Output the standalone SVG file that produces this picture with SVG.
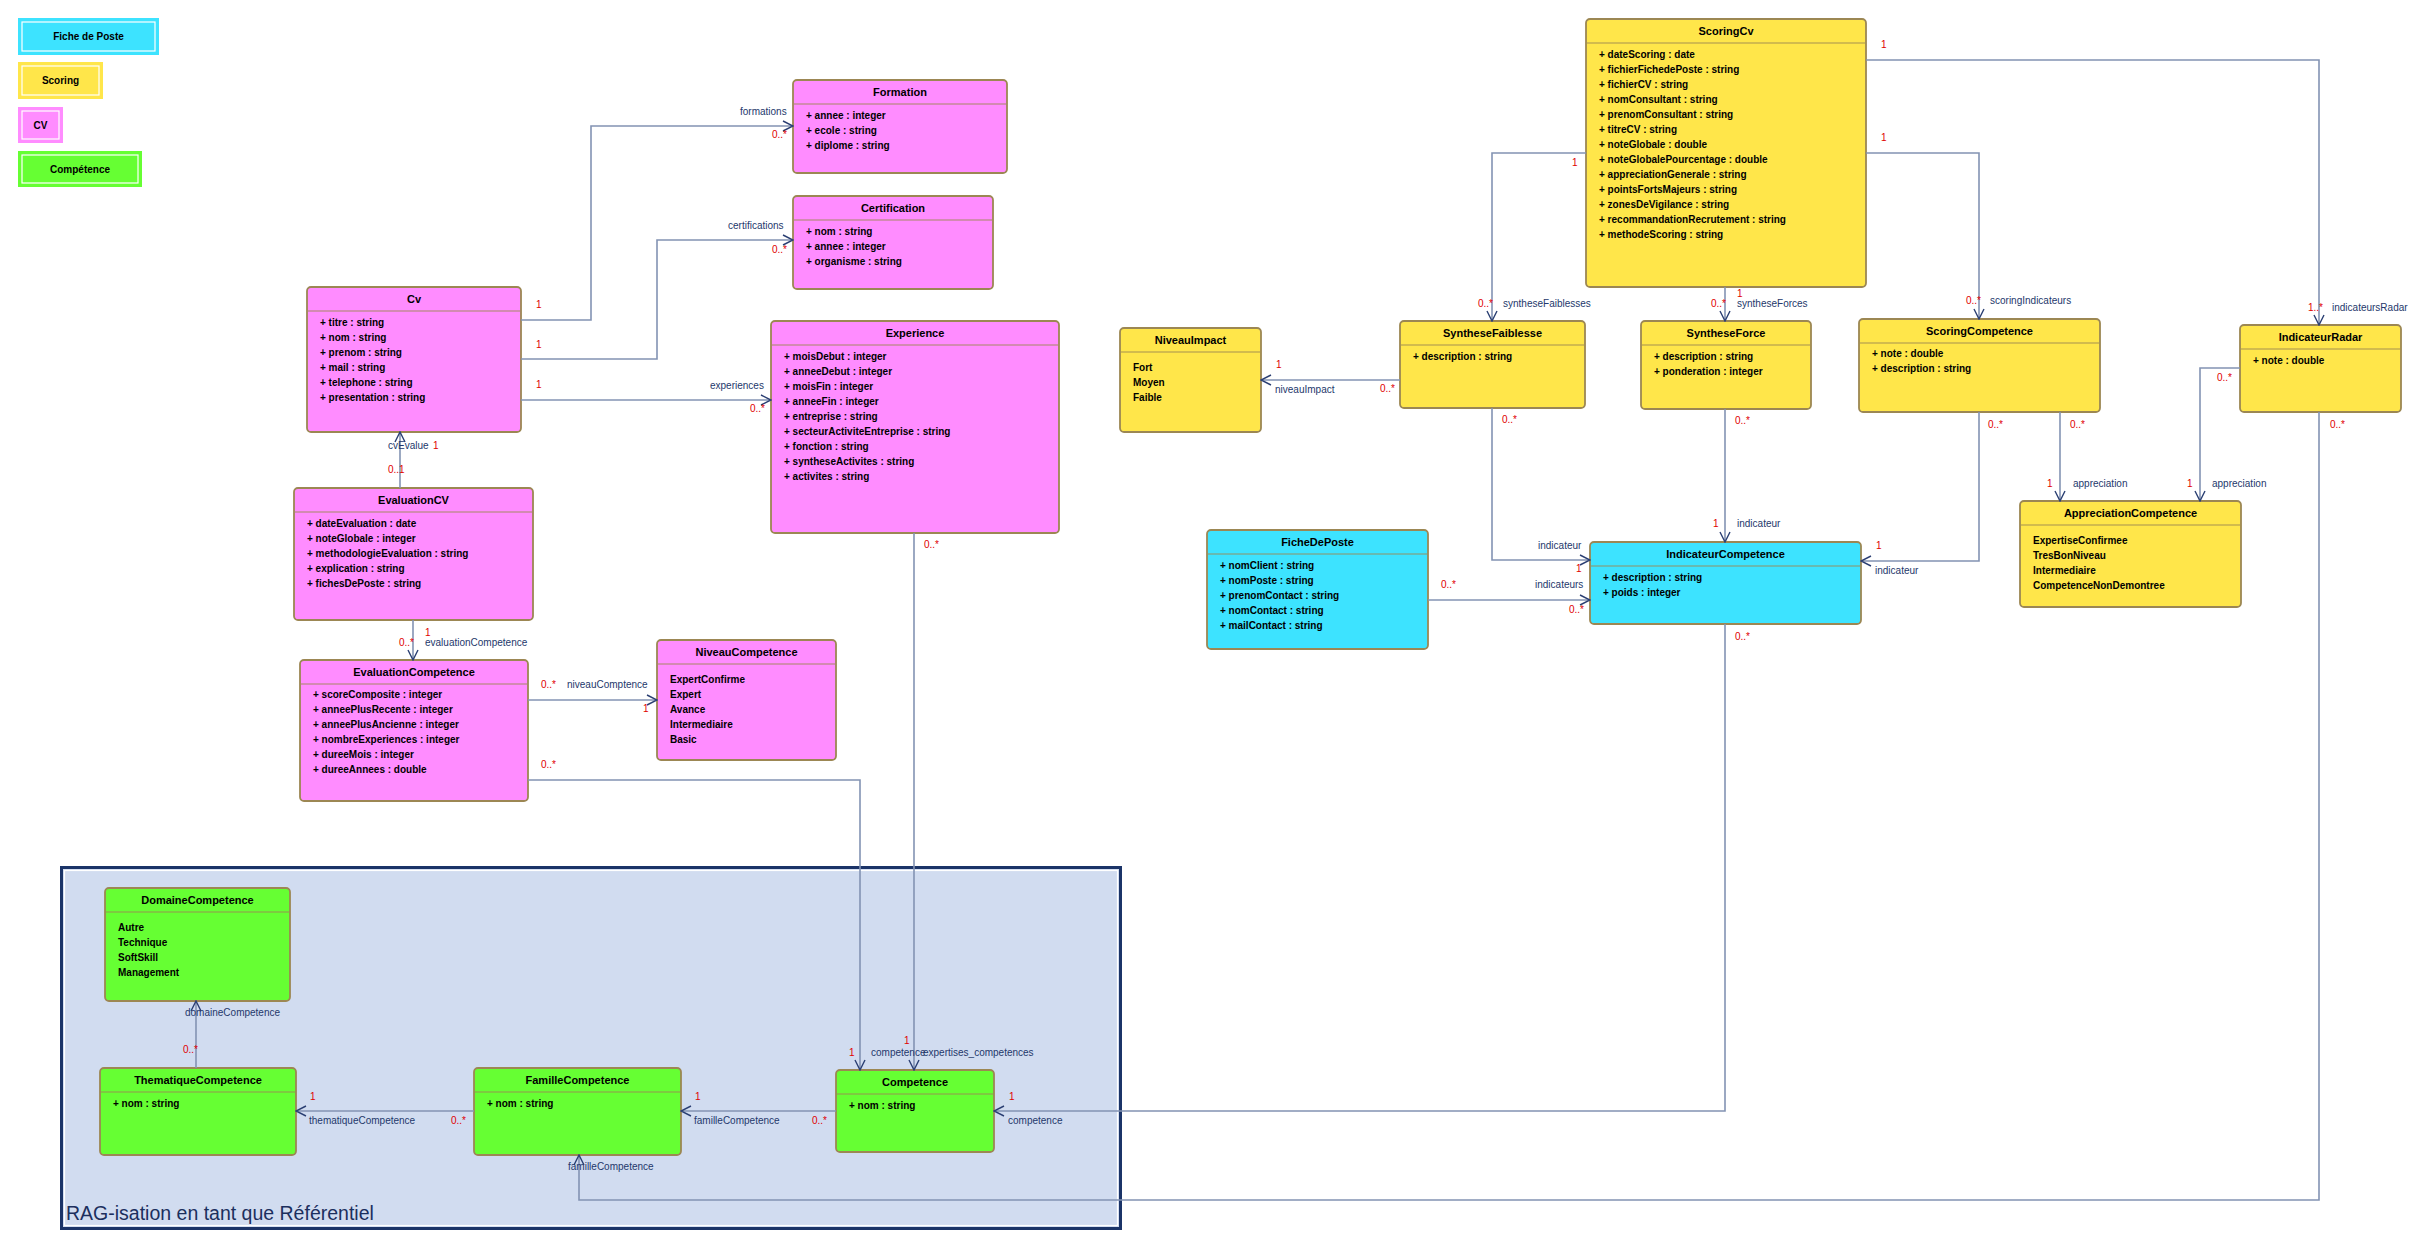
<svg xmlns="http://www.w3.org/2000/svg" width="2421" height="1249" viewBox="0 0 2421 1249">
<style>
.bx{stroke:#9c8753;stroke-width:1.8}
.pk{fill:#ff8cff}.ye{fill:#ffe64a}.cy{fill:#3de3ff}.gr{fill:#66ff33}
.sp{stroke:#9c8753;stroke-opacity:.45;stroke-width:2}
.t{font-family:"Liberation Sans",Arial,sans-serif;font-size:11px;font-weight:bold;text-anchor:middle;fill:#000}
.a{font-family:"Liberation Sans",Arial,sans-serif;font-size:10px;font-weight:bold;fill:#000}
.lg{font-family:"Liberation Sans",Arial,sans-serif;font-size:10px;font-weight:bold;text-anchor:middle;fill:#000}
.r{font-family:"Liberation Sans",Arial,sans-serif;font-size:10px;fill:#24386b}
.m{font-family:"Liberation Sans",Arial,sans-serif;font-size:10px;fill:#e00000}
.c{fill:none;stroke:#8393b3;stroke-width:1.6}
.ca{fill:none;stroke:#8393b3;stroke-width:1.6;marker-end:url(#ar)}
</style>
<defs>
<marker id="ar" markerWidth="12" markerHeight="12" viewBox="0 0 12 12" refX="11" refY="6" orient="auto" markerUnits="userSpaceOnUse">
<path d="M1,1 L11,6 L1,11" fill="none" stroke="#2b3f73" stroke-width="1.4"/>
</marker>
</defs>
<rect x="0" y="0" width="2421" height="1249" fill="#fff"/>

<g id="legend">
<g id="legend-fiche"><rect x="18" y="18" width="141" height="37" fill="#3de3ff"/><rect x="22" y="22" width="133" height="29" fill="none" stroke="#fff" stroke-width="1.2"/><text class="lg" x="88.5" y="40">Fiche de Poste</text></g>
<g id="legend-scoring"><rect x="18" y="62" width="85" height="37" fill="#ffe64a"/><rect x="22" y="66" width="77" height="29" fill="none" stroke="#fff" stroke-width="1.2"/><text class="lg" x="60.5" y="84">Scoring</text></g>
<g id="legend-cv"><rect x="18" y="107" width="45" height="36" fill="#ff8cff"/><rect x="22" y="111" width="37" height="28" fill="none" stroke="#fff" stroke-width="1.2"/><text class="lg" x="40.5" y="128.5">CV</text></g>
<g id="legend-competence"><rect x="18" y="151" width="124" height="36" fill="#66ff33"/><rect x="22" y="155" width="116" height="28" fill="none" stroke="#fff" stroke-width="1.2"/><text class="lg" x="80" y="172.5">Compétence</text></g>
</g>

<g id="rag-container">
<rect x="61.5" y="867.5" width="1059" height="361" fill="#d1dcf0" stroke="#1b3468" stroke-width="3"/>
<rect x="64.5" y="870.5" width="1053" height="355" fill="none" stroke="#fff" stroke-width="1.2"/>
<text x="66" y="1220" font-family="Liberation Sans, Arial, sans-serif" font-size="19.5" fill="#1c2f5e">RAG-isation en tant que Référentiel</text>
</g>

<g id="Formation"><rect class="bx pk" x="793" y="80" width="214" height="93" rx="4"/><line class="sp" x1="794" y1="104" x2="1006" y2="104"/><text class="t" x="900" y="96">Formation</text>
<text class="a" x="806" y="119">+ annee : integer</text><text class="a" x="806" y="134">+ ecole : string</text><text class="a" x="806" y="149">+ diplome : string</text></g>

<g id="Certification"><rect class="bx pk" x="793" y="196" width="200" height="93" rx="4"/><line class="sp" x1="794" y1="220" x2="992" y2="220"/><text class="t" x="893" y="212">Certification</text>
<text class="a" x="806" y="235">+ nom : string</text><text class="a" x="806" y="250">+ annee : integer</text><text class="a" x="806" y="265">+ organisme : string</text></g>

<g id="Experience"><rect class="bx pk" x="771" y="321" width="288" height="212" rx="4"/><line class="sp" x1="772" y1="345" x2="1058" y2="345"/><text class="t" x="915" y="337">Experience</text>
<text class="a" x="784" y="360">+ moisDebut : integer</text><text class="a" x="784" y="375">+ anneeDebut : integer</text><text class="a" x="784" y="390">+ moisFin : integer</text><text class="a" x="784" y="405">+ anneeFin : integer</text><text class="a" x="784" y="420">+ entreprise : string</text><text class="a" x="784" y="435">+ secteurActiviteEntreprise : string</text><text class="a" x="784" y="450">+ fonction : string</text><text class="a" x="784" y="465">+ syntheseActivites : string</text><text class="a" x="784" y="480">+ activites : string</text></g>

<g id="Cv"><rect class="bx pk" x="307" y="287" width="214" height="145" rx="4"/><line class="sp" x1="308" y1="311" x2="520" y2="311"/><text class="t" x="414" y="303">Cv</text>
<text class="a" x="320" y="326">+ titre : string</text><text class="a" x="320" y="341">+ nom : string</text><text class="a" x="320" y="356">+ prenom : string</text><text class="a" x="320" y="371">+ mail : string</text><text class="a" x="320" y="386">+ telephone : string</text><text class="a" x="320" y="401">+ presentation : string</text></g>

<g id="EvaluationCV"><rect class="bx pk" x="294" y="488" width="239" height="132" rx="4"/><line class="sp" x1="295" y1="512" x2="532" y2="512"/><text class="t" x="413.5" y="504">EvaluationCV</text>
<text class="a" x="307" y="527">+ dateEvaluation : date</text><text class="a" x="307" y="542">+ noteGlobale : integer</text><text class="a" x="307" y="557">+ methodologieEvaluation : string</text><text class="a" x="307" y="572">+ explication : string</text><text class="a" x="307" y="587">+ fichesDePoste : string</text></g>

<g id="EvaluationCompetence"><rect class="bx pk" x="300" y="660" width="228" height="141" rx="4"/><line class="sp" x1="301" y1="684" x2="527" y2="684"/><text class="t" x="414" y="676">EvaluationCompetence</text>
<text class="a" x="313" y="698">+ scoreComposite : integer</text><text class="a" x="313" y="713">+ anneePlusRecente : integer</text><text class="a" x="313" y="728">+ anneePlusAncienne : integer</text><text class="a" x="313" y="743">+ nombreExperiences : integer</text><text class="a" x="313" y="758">+ dureeMois : integer</text><text class="a" x="313" y="773">+ dureeAnnees : double</text></g>

<g id="NiveauCompetence"><rect class="bx pk" x="657" y="640" width="179" height="120" rx="4"/><line class="sp" x1="658" y1="664" x2="835" y2="664"/><text class="t" x="746.5" y="656">NiveauCompetence</text>
<text class="a" x="670" y="683">ExpertConfirme</text><text class="a" x="670" y="698">Expert</text><text class="a" x="670" y="713">Avance</text><text class="a" x="670" y="728">Intermediaire</text><text class="a" x="670" y="743">Basic</text></g>

<g id="ScoringCv"><rect class="bx ye" x="1586" y="19" width="280" height="268" rx="4"/><line class="sp" x1="1587" y1="43" x2="1865" y2="43"/><text class="t" x="1726" y="35">ScoringCv</text>
<text class="a" x="1599" y="58">+ dateScoring : date</text><text class="a" x="1599" y="73">+ fichierFichedePoste : string</text><text class="a" x="1599" y="88">+ fichierCV : string</text><text class="a" x="1599" y="103">+ nomConsultant : string</text><text class="a" x="1599" y="118">+ prenomConsultant : string</text><text class="a" x="1599" y="133">+ titreCV : string</text><text class="a" x="1599" y="148">+ noteGlobale : double</text><text class="a" x="1599" y="163">+ noteGlobalePourcentage : double</text><text class="a" x="1599" y="178">+ appreciationGenerale : string</text><text class="a" x="1599" y="193">+ pointsFortsMajeurs : string</text><text class="a" x="1599" y="208">+ zonesDeVigilance : string</text><text class="a" x="1599" y="223">+ recommandationRecrutement : string</text><text class="a" x="1599" y="238">+ methodeScoring : string</text></g>

<g id="NiveauImpact"><rect class="bx ye" x="1120" y="328" width="141" height="104" rx="4"/><line class="sp" x1="1121" y1="352" x2="1260" y2="352"/><text class="t" x="1190.5" y="344">NiveauImpact</text>
<text class="a" x="1133" y="371">Fort</text><text class="a" x="1133" y="386">Moyen</text><text class="a" x="1133" y="401">Faible</text></g>

<g id="SyntheseFaiblesse"><rect class="bx ye" x="1400" y="321" width="185" height="87" rx="4"/><line class="sp" x1="1401" y1="345" x2="1584" y2="345"/><text class="t" x="1492.5" y="337">SyntheseFaiblesse</text>
<text class="a" x="1413" y="360">+ description : string</text></g>

<g id="SyntheseForce"><rect class="bx ye" x="1641" y="321" width="170" height="88" rx="4"/><line class="sp" x1="1642" y1="345" x2="1810" y2="345"/><text class="t" x="1726" y="337">SyntheseForce</text>
<text class="a" x="1654" y="360">+ description : string</text><text class="a" x="1654" y="375">+ ponderation : integer</text></g>

<g id="ScoringCompetence"><rect class="bx ye" x="1859" y="319" width="241" height="93" rx="4"/><line class="sp" x1="1860" y1="343" x2="2099" y2="343"/><text class="t" x="1979.5" y="335">ScoringCompetence</text>
<text class="a" x="1872" y="357">+ note : double</text><text class="a" x="1872" y="372">+ description : string</text></g>

<g id="IndicateurRadar"><rect class="bx ye" x="2240" y="325" width="161" height="87" rx="4"/><line class="sp" x1="2241" y1="349" x2="2400" y2="349"/><text class="t" x="2320.5" y="341">IndicateurRadar</text>
<text class="a" x="2253" y="364">+ note : double</text></g>

<g id="AppreciationCompetence"><rect class="bx ye" x="2020" y="501" width="221" height="106" rx="4"/><line class="sp" x1="2021" y1="525" x2="2240" y2="525"/><text class="t" x="2130.5" y="517">AppreciationCompetence</text>
<text class="a" x="2033" y="543.5">ExpertiseConfirmee</text><text class="a" x="2033" y="558.5">TresBonNiveau</text><text class="a" x="2033" y="573.5">Intermediaire</text><text class="a" x="2033" y="588.5">CompetenceNonDemontree</text></g>

<g id="FicheDePoste"><rect class="bx cy" x="1207" y="530" width="221" height="119" rx="4"/><line class="sp" x1="1208" y1="554" x2="1427" y2="554"/><text class="t" x="1317.5" y="546">FicheDePoste</text>
<text class="a" x="1220" y="569">+ nomClient : string</text><text class="a" x="1220" y="584">+ nomPoste : string</text><text class="a" x="1220" y="599">+ prenomContact : string</text><text class="a" x="1220" y="614">+ nomContact : string</text><text class="a" x="1220" y="629">+ mailContact : string</text></g>

<g id="IndicateurCompetence"><rect class="bx cy" x="1590" y="542" width="271" height="82" rx="4"/><line class="sp" x1="1591" y1="566" x2="1860" y2="566"/><text class="t" x="1725.5" y="558">IndicateurCompetence</text>
<text class="a" x="1603" y="581">+ description : string</text><text class="a" x="1603" y="596">+ poids : integer</text></g>

<g id="DomaineCompetence"><rect class="bx gr" x="105" y="888" width="185" height="113" rx="4"/><line class="sp" x1="106" y1="912" x2="289" y2="912"/><text class="t" x="197.5" y="904">DomaineCompetence</text>
<text class="a" x="118" y="930.5">Autre</text><text class="a" x="118" y="945.5">Technique</text><text class="a" x="118" y="960.5">SoftSkill</text><text class="a" x="118" y="975.5">Management</text></g>

<g id="ThematiqueCompetence"><rect class="bx gr" x="100" y="1068" width="196" height="87" rx="4"/><line class="sp" x1="101" y1="1092" x2="295" y2="1092"/><text class="t" x="198" y="1084">ThematiqueCompetence</text>
<text class="a" x="113" y="1106.5">+ nom : string</text></g>

<g id="FamilleCompetence"><rect class="bx gr" x="474" y="1068" width="207" height="87" rx="4"/><line class="sp" x1="475" y1="1092" x2="680" y2="1092"/><text class="t" x="577.5" y="1084">FamilleCompetence</text>
<text class="a" x="487" y="1106.5">+ nom : string</text></g>

<g id="Competence"><rect class="bx gr" x="836" y="1070" width="158" height="82" rx="4"/><line class="sp" x1="837" y1="1094" x2="993" y2="1094"/><text class="t" x="915" y="1086">Competence</text>
<text class="a" x="849" y="1109">+ nom : string</text></g>

<g id="connectors">
<path class="ca" d="M521,320 H591 V126 H793"/>
<path class="ca" d="M521,359 H657 V240 H793"/>
<path class="ca" d="M521,400 H771"/>
<path class="ca" d="M400,488 V432"/>
<path class="ca" d="M413,620 V660"/>
<path class="ca" d="M528,700 H657"/>
<path class="ca" d="M528,780 H860 V1070"/>
<path class="ca" d="M914,533 V1070"/>
<path class="ca" d="M1586,153 H1492 V321"/>
<path class="ca" d="M1725,287 V321"/>
<path class="ca" d="M1866,153 H1979 V319"/>
<path class="ca" d="M1866,60 H2319 V325"/>
<path class="ca" d="M1400,380 H1261"/>
<path class="ca" d="M1492,408 V560 H1590"/>
<path class="ca" d="M1725,409 V542"/>
<path class="ca" d="M1979,412 V561 H1861"/>
<path class="ca" d="M2060,412 V501"/>
<path class="ca" d="M2240,368 H2200 V501"/>
<path class="ca" d="M1428,600 H1590"/>
<path class="ca" d="M1725,624 V1111 H994"/>
<path class="ca" d="M2319,412 V1200 H579 V1155"/>
<path class="ca" d="M474,1111 H296"/>
<path class="ca" d="M836,1111 H681"/>
<path class="ca" d="M196,1068 V1001"/>

<text class="m" x="536" y="308">1</text><text class="r" x="740" y="115">formations</text><text class="m" x="772" y="138">0..*</text>
<text class="m" x="536" y="348">1</text><text class="r" x="728" y="229">certifications</text><text class="m" x="772" y="253">0..*</text>
<text class="m" x="536" y="388">1</text><text class="r" x="710" y="389">experiences</text><text class="m" x="750" y="412">0..*</text>
<text class="r" x="388" y="449">cvEvalue</text><text class="m" x="433" y="449">1</text><text class="m" x="388" y="473">0..1</text>
<text class="m" x="425" y="635.5">1</text><text class="m" x="399" y="645.5">0..*</text><text class="r" x="425" y="646">evaluationCompetence</text>
<text class="m" x="541" y="688">0..*</text><text class="r" x="567" y="688">niveauComptence</text><text class="m" x="643" y="712">1</text>
<text class="m" x="541" y="768">0..*</text><text class="m" x="849" y="1056">1</text><text class="r" x="871" y="1056">competence</text>
<text class="m" x="924" y="548">0..*</text><text class="m" x="904" y="1044">1</text><text class="r" x="923" y="1056">expertises_competences</text>
<text class="m" x="1572" y="166">1</text><text class="m" x="1478" y="307">0..*</text><text class="r" x="1503" y="307">syntheseFaiblesses</text>
<text class="m" x="1711" y="307">0..*</text><text class="r" x="1737" y="307">syntheseForces</text><text class="m" x="1737" y="297">1</text>
<text class="m" x="1881" y="141">1</text><text class="m" x="1966" y="304">0..*</text><text class="r" x="1990" y="304">scoringIndicateurs</text>
<text class="m" x="1881" y="48">1</text><text class="m" x="2308" y="311">1..*</text><text class="r" x="2332" y="311">indicateursRadar</text>
<text class="m" x="1276" y="368">1</text><text class="r" x="1275" y="393">niveauImpact</text><text class="m" x="1380" y="392">0..*</text>
<text class="m" x="1502" y="423">0..*</text><text class="r" x="1538" y="549">indicateur</text><text class="m" x="1576" y="572">1</text>
<text class="m" x="1735" y="424">0..*</text><text class="m" x="1713" y="527">1</text><text class="r" x="1737" y="527">indicateur</text>
<text class="m" x="1988" y="428">0..*</text><text class="m" x="1876" y="549">1</text><text class="r" x="1875" y="574">indicateur</text>
<text class="m" x="2070" y="428">0..*</text><text class="m" x="2047" y="487">1</text><text class="r" x="2073" y="487">appreciation</text>
<text class="m" x="2217" y="381">0..*</text><text class="m" x="2187" y="487">1</text><text class="r" x="2212" y="487">appreciation</text>
<text class="m" x="1441" y="588">0..*</text><text class="r" x="1535" y="588">indicateurs</text><text class="m" x="1569" y="613">0..*</text>
<text class="m" x="1735" y="640">0..*</text><text class="m" x="1009" y="1100">1</text><text class="r" x="1008" y="1124">competence</text>
<text class="m" x="2330" y="428">0..*</text><text class="r" x="568" y="1170">familleCompetence</text>
<text class="m" x="310" y="1100">1</text><text class="r" x="309" y="1124">thematiqueCompetence</text><text class="m" x="451" y="1124">0..*</text>
<text class="m" x="695" y="1100">1</text><text class="r" x="694" y="1124">familleCompetence</text><text class="m" x="812" y="1124">0..*</text>
<text class="m" x="183" y="1053">0..*</text><text class="r" x="185" y="1016">domaineCompetence</text>
</g>
</svg>
